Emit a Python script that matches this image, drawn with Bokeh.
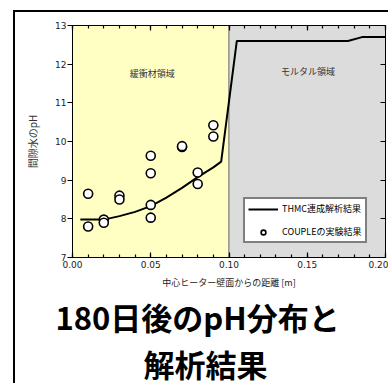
from bokeh.plotting import figure
from bokeh.models import (LinearAxis, FixedTicker, Range1d, Legend, LegendItem,
                          Title, ColumnDataSource)
from bokeh.core.properties import value
from bokeh.embed import file_html
from bokeh.resources import INLINE
import numpy as np

# ---- data ----
# THMC coupled analysis result (line)
thmc_x = [0.005, 0.020, 0.030, 0.040, 0.050, 0.060, 0.070, 0.080, 0.090, 0.095, 0.105, 0.176, 0.185, 0.200]
thmc_ph = [7.98, 7.98, 8.07, 8.18, 8.33, 8.55, 8.80, 9.08, 9.33, 9.48, 12.60, 12.60, 12.70, 12.70]

# COUPLE experiment results (points)
exp_x = [0.01, 0.01, 0.02, 0.02, 0.03, 0.03, 0.05, 0.05, 0.05, 0.05, 0.07, 0.07, 0.08, 0.08, 0.09, 0.09]
exp_ph = [8.65, 7.80, 7.98, 7.90, 8.60, 8.50, 9.63, 9.18, 8.36, 8.03, 9.86, 9.88, 9.20, 8.90, 10.42, 10.13]

# regions
region_left = [0.0, 0.10]
region_right = [0.10, 0.20]
region_color = ["#FFFFC4", "#DCDCDC"]
region_names = ["緩衝材領域", "モルタル領域"]
region_label_x = [0.051, 0.1505]
region_label_y = [11.77, 11.8]

x_ticks = [0.0, 0.05, 0.10, 0.15, 0.20]
x_tick_labels = ["0.00", "0.05", "0.10", "0.15", "0.20"]
y_ticks = [7, 8, 9, 10, 11, 12, 13]

x_label = "中心ヒーター壁面からの距離 [m]"
y_label = "間隙水のpH"
legend_line = "THMC連成解析結果"
legend_pts = "COUPLEの実験結果"
title_lines = ["180日後のpH分布と", "解析結果"]

JP = "Noto Sans CJK JP"

p = figure(width=375, height=373, output_backend="svg", toolbar_location=None,
           x_range=Range1d(0, 0.2), y_range=Range1d(7, 13),
           min_border_left=57, min_border_right=5, min_border_top=13, min_border_bottom=128,
           x_axis_location=None, y_axis_location=None)
p.styles = {"margin-left": "13px", "margin-top": "10px",
            "border-left": "2px solid black", "border-top": "2px solid black"}
p.xgrid.visible = False
p.ygrid.visible = False
p.background_fill_color = "white"
p.border_fill_color = "white"
p.outline_line_color = "black"
p.outline_line_width = 1

minor = list(np.round(np.arange(0.0, 0.2001, 0.01), 3))

def xaxis(loc, labels):
    ax = LinearAxis(ticker=FixedTicker(ticks=x_ticks, minor_ticks=minor))
    ax.major_tick_in = 5
    ax.major_tick_out = 0
    ax.minor_tick_in = 3
    ax.minor_tick_out = 0
    ax.axis_line_color = "black"
    ax.major_tick_line_color = "black"
    ax.minor_tick_line_color = "black"
    ax.major_tick_line_width = 1.2
    ax.minor_tick_line_width = 1.2
    if labels:
        ax.major_label_overrides = {t: l for t, l in zip(x_ticks, x_tick_labels)}
        ax.major_label_text_font = "DejaVu Sans"
        ax.major_label_text_font_size = "9px"
        ax.major_label_text_color = "#222222"
        ax.major_label_standoff = 3
        ax.axis_label = x_label
        ax.axis_label_text_font = JP
        ax.axis_label_text_font_style = "normal"
        ax.axis_label_text_font_size = "9px"
        ax.axis_label_text_color = "#222222"
        ax.axis_label_standoff = 5
    else:
        ax.major_label_overrides = {t: "" for t in x_ticks}
        ax.major_label_standoff = 0
    p.add_layout(ax, loc)

def yaxis(loc, labels):
    ax = LinearAxis(ticker=FixedTicker(ticks=y_ticks, minor_ticks=[]))
    ax.minor_tick_line_color = None
    ax.axis_line_color = "black"
    ax.major_tick_line_color = "black"
    ax.major_tick_line_width = 1.2
    if labels:
        ax.major_tick_in = 0
        ax.major_tick_out = 5
        ax.major_label_text_font = "DejaVu Sans"
        ax.major_label_text_font_size = "9px"
        ax.major_label_text_color = "#222222"
        ax.major_label_standoff = 1
        ax.axis_label = y_label
        ax.axis_label_text_font = JP
        ax.axis_label_text_font_style = "normal"
        ax.axis_label_text_font_size = "10px"
        ax.axis_label_text_color = "#333333"
        ax.axis_label_standoff = 12
    else:
        ax.major_tick_in = 5
        ax.major_tick_out = 0
        ax.major_label_overrides = {t: "" for t in y_ticks}
        ax.major_label_standoff = 0
    p.add_layout(ax, loc)

xaxis("below", True)
xaxis("above", False)
yaxis("left", True)
yaxis("right", False)

# region backgrounds
rsrc = ColumnDataSource(dict(left=region_left, right=region_right, color=region_color))
p.quad(left="left", right="right", bottom=7, top=13, fill_color="color",
       line_color="#7F7F7F", line_width=1, source=rsrc)
p.text(x=region_label_x, y=region_label_y, text=region_names, text_font=value(JP),
       text_font_size="9px", text_color="#333333", text_align="center", text_baseline="middle")

line_r = p.line(thmc_x, thmc_ph, line_color="black", line_width=2)
pts_r = p.scatter(exp_x, exp_ph, marker="circle", size=9, fill_color="white",
                  line_color="black", line_width=1.6)

legend = Legend(items=[LegendItem(label=legend_line, renderers=[line_r]),
                       LegendItem(label=legend_pts, renderers=[pts_r])],
                location=(171, 14), orientation="vertical")
legend.border_line_color = "black"
legend.border_line_width = 2
legend.background_fill_color = "white"
legend.background_fill_alpha = 1
legend.label_text_font = JP
legend.label_text_font_size = "9px"
legend.label_text_color = "black"
legend.glyph_width = 30
legend.glyph_height = 12
legend.label_height = 12
legend.label_standoff = 4
legend.spacing = 10
legend.padding = 3
legend.margin = 0
p.add_layout(legend, "center")

# big caption below the chart
for txt, off in zip(title_lines, [-17, 71]):
    t = Title(text=txt, align="left", offset=off, standoff=0,
              text_font=JP, text_font_style="bold", text_font_size="31px",
              text_color="black")
    p.add_layout(t, "below")

open("out.html", "w").write(file_html(p, INLINE))
